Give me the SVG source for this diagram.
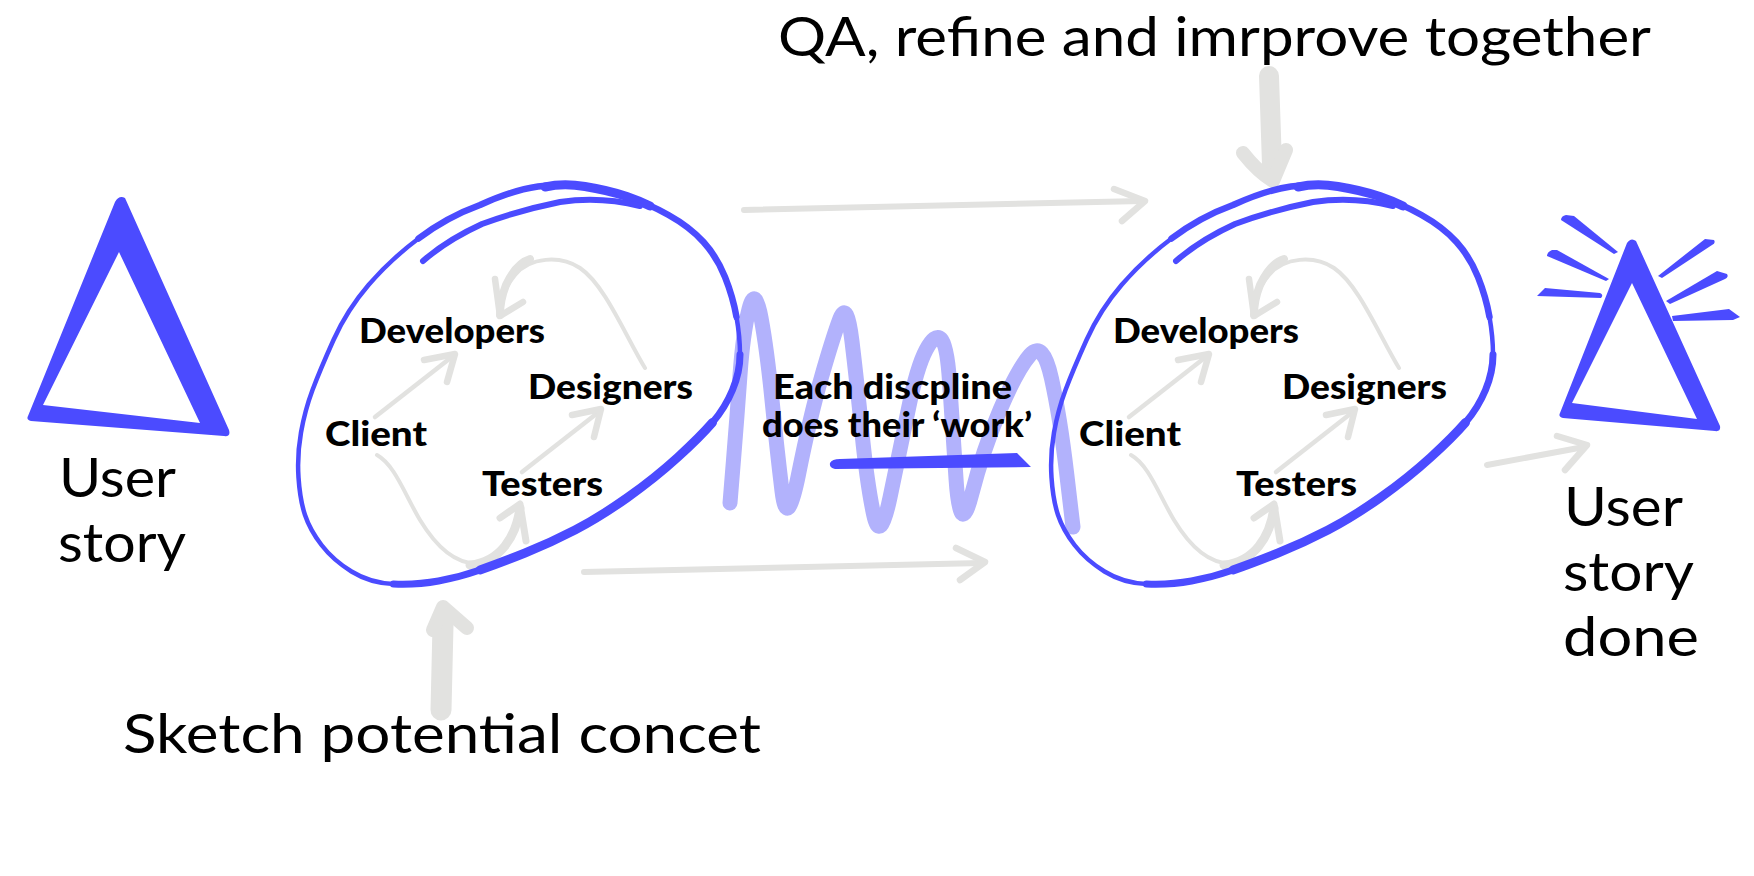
<svg xmlns="http://www.w3.org/2000/svg" xmlns:xlink="http://www.w3.org/1999/xlink" width="1754" height="876" viewBox="0 0 1754 876">
<style>
.big{font-family:Lato,"Liberation Sans",sans-serif;font-size:55px;fill:#000}
.lbl{font-family:Lato,"Liberation Sans",sans-serif;font-weight:900;font-size:34px;fill:#000}
.blue{fill:#4b4bff}
.bl{fill:none;stroke:#4b4bff;stroke-linecap:round;stroke-linejoin:round}
.g{fill:none;stroke:#e2e2e0;stroke-linecap:round;stroke-linejoin:round}
.sq{fill:none;stroke:#b2b2fc;stroke-width:15;stroke-linecap:round;stroke-linejoin:round}
</style>
<defs>
<g id="loop">
<path class="bl" stroke-width="4.5" d="M 585 186.5 Q 607 190 627 196.5 Q 647 203 668.5 215 Q 690 227 703.5 242 Q 717 257 725 277 Q 733 297 736.5 317 Q 740 337 740 354.5 Q 740 372 732.5 390 Q 725 408 712.5 422.5 Q 700 437 677.5 457.5 Q 655 478 627.5 497.5 Q 600 517 575 530 Q 550 543 525 553 Q 500 563 480 570 Q 460 577 438.5 581 Q 417 585 393.5 584 Q 370 583 351.5 571.5 Q 333 560 321.5 545 Q 310 530 305 515 Q 300 500 298.5 477.5 Q 297 455 301 432.5 Q 305 410 312.5 390 Q 320 370 333.5 340 Q 347 310 368.5 285 Q 390 260 418.5 238.5 Q 447 217 480 205 Q 513 190 538 186.5 Q 563 183 585 186.5"/>
<path class="bl" stroke-width="6.5" d="M 418.5 238.5 Q 447 217 480 205 Q 513 190 538 186.5 Q 563 183 585 186.5 Q 607 190 627 196.5 Q 647 203 668.5 215 Q 690 227 703.5 242 Q 717 257 725 277 Q 733 297 736.5 317"/>
<path class="bl" stroke-width="7" d="M 740 354.5 Q 740 372 732.5 390 Q 725 408 712.5 422.5 Q 700 437 677.5 457.5 Q 655 478 627.5 497.5 Q 600 517 575 530 Q 550 543 525 553 Q 500 563 480 570 Q 460 577 438.5 581 Q 417 585 393.5 584"/>
<path class="bl" stroke-width="9" d="M 712.5 422.5 Q 700 437 677.5 457.5 Q 655 478 627.5 497.5 Q 600 517 575 530 Q 550 543 525 553 Q 500 563 480 570"/>
<path class="bl" stroke-width="9" d="M 545 187 Q 563 183 585 186.5 Q 607 190 627 196.5 Q 640 201 650 206"/>
<path class="bl" stroke-width="6" d="M 423 261 Q 447 240 482 224 Q 520 210 560 202 Q 600 196 640 206"/>
</g>
<g id="inner">
<path class="g" stroke-width="4.5" d="M 375 417 L 453 356"/>
<path class="g" stroke-width="6.5" d="M 424 360 L 455 354 L 447 382"/>
<path class="g" stroke-width="4.5" d="M 522 472 L 600 411"/>
<path class="g" stroke-width="6.5" d="M 572 415 L 601 409 L 594 437"/>
<path class="g" stroke-width="4" d="M 377 455 C 395 465 405 495 420 520 C 440 553 460 566 482 563 C 505 559 517 535 520 506"/>
<path class="g" stroke-width="9" d="M 470 565 C 500 562 516 537 520 508"/>
<path class="g" stroke-width="7" d="M 500 518 L 520 504 L 526 541"/>
<path class="g" stroke-width="4" d="M 645 368 C 625 335 605 285 580 268 C 560 255 530 257 515 275 C 505 287 500 300 500 315"/>
<path class="g" stroke-width="8" d="M 530 259 C 520 262 512 272 506 285 C 502 295 500 305 500 315"/>
<path class="g" stroke-width="6.5" d="M 495 279 L 500 316 L 523 302"/>
</g>
</defs>

<g id="work">
<path class="sq" d="M 730 503 L 733.5 460 Q 737 417 740 375 Q 743 333 749 309 Q 755 285 761 317.5 Q 767 350 772 400 Q 777 450 782 491 Q 787 532 798.5 474.5 Q 810 417 821.5 377 Q 833 337 840 318.5 Q 847 300 852 341.5 Q 857 383 862 433 Q 867 483 873.5 514 Q 880 545 890 497.5 Q 900 450 908.5 408.5 Q 917 367 926 350 Q 935 333 941 339 Q 947 345 949.5 381 Q 952 417 956 478.5 Q 960 540 971.5 495 Q 983 450 1000 410 Q 1017 370 1030 355 Q 1043 340 1051.5 378.5 Q 1060 417 1066.5 472 L 1073 527"/>
<path class="blue" d="M 830 463 Q 832 459 840 459 L 1017 453 L 1031 467 L 835 469 Q 829 468 830 463 Z"/>
<text class="lbl" x="773" y="399" textLength="239" lengthAdjust="spacingAndGlyphs">Each discpline</text>
<text class="lbl" x="762" y="437" textLength="270" lengthAdjust="spacingAndGlyphs">does their ‘work’</text>
</g>

<g id="connectors">
<path class="g" stroke-width="6" d="M 744 210 L 1142 201"/>
<path class="g" stroke-width="6.5" d="M 1114 189 L 1145 201 L 1122 221"/>
<path class="g" stroke-width="6" d="M 584 572 L 982 563"/>
<path class="g" stroke-width="6.5" d="M 956 548 L 985 562 L 960 580"/>
<path class="g" stroke-width="6" d="M 1487 465 L 1584 447"/>
<path class="g" stroke-width="6.5" d="M 1557 436 L 1587 445 L 1565 470"/>
<path class="g" stroke-width="20" d="M 1269 76 L 1272 165"/>
<path class="g" stroke-width="14" d="M 1243 153 Q 1258 172 1273 181 L 1286 150"/>
<path class="g" stroke-width="21" d="M 441 710 L 443 625"/>
<path class="g" stroke-width="14" d="M 433 630 L 443 607 L 467 628"/>
<use xlink:href="#inner" href="#inner"/>
<use xlink:href="#inner" href="#inner" transform="translate(754,0)"/>
</g>

<g id="user-story">
<path class="blue" fill-rule="evenodd" d="M 115 202 Q 119 195 125 198 L 229 430 Q 231 437 224 436 L 31 421 Q 26 420 28 416 Z M 119 252 L 43 405 L 200 423 Z"/>
<text class="big" x="59" y="497" textLength="117" lengthAdjust="spacingAndGlyphs">User</text>
<text class="big" x="58" y="562" textLength="128" lengthAdjust="spacingAndGlyphs">story</text>
</g>

<g id="sketch-loop">
<use xlink:href="#loop" href="#loop"/>
<text class="lbl" x="359" y="343" textLength="186" lengthAdjust="spacingAndGlyphs">Developers</text>
<text class="lbl" x="528" y="399" textLength="165" lengthAdjust="spacingAndGlyphs">Designers</text>
<text class="lbl" x="325" y="446" textLength="102" lengthAdjust="spacingAndGlyphs">Client</text>
<text class="lbl" x="482" y="496" textLength="121" lengthAdjust="spacingAndGlyphs">Testers</text>
</g>

<g id="qa-loop">
<use xlink:href="#loop" href="#loop" transform="translate(753,0)"/>
<text class="lbl" x="1113" y="343" textLength="186" lengthAdjust="spacingAndGlyphs">Developers</text>
<text class="lbl" x="1282" y="399" textLength="165" lengthAdjust="spacingAndGlyphs">Designers</text>
<text class="lbl" x="1079" y="446" textLength="102" lengthAdjust="spacingAndGlyphs">Client</text>
<text class="lbl" x="1236" y="496" textLength="121" lengthAdjust="spacingAndGlyphs">Testers</text>
</g>

<g id="done">
<path class="blue" fill-rule="evenodd" d="M 1627 243 Q 1631 237 1636 241 L 1720 426 Q 1721 432 1715 431 L 1563 418 Q 1558 417 1560 413 Z M 1632 283 L 1572 403 L 1697 419 Z"/>
<path class="blue" d="M 1561 220 Q 1561 216 1566 215 L 1574 216 L 1618 252 L 1614 254 Z"/>
<path class="blue" d="M 1547 256 Q 1547 252 1552 250 L 1557 250 L 1609 279 L 1606 281 Z"/>
<path class="blue" d="M 1537 296 L 1545 288 L 1600 293 Q 1604 295 1601 298 Z"/>
<path class="blue" d="M 1658 276 L 1705 239 L 1714 240 Q 1716 243 1712 245 L 1662 278 Z"/>
<path class="blue" d="M 1666 301 L 1717 271 L 1727 274 Q 1729 277 1725 279 L 1670 304 Z"/>
<path class="blue" d="M 1672 316 L 1729 309 L 1740 317 L 1733 320 L 1673 321 Z"/>
<text class="big" x="1564" y="526" textLength="119" lengthAdjust="spacingAndGlyphs">User</text>
<text class="big" x="1563" y="591" textLength="131" lengthAdjust="spacingAndGlyphs">story</text>
<text class="big" x="1563" y="656" textLength="136" lengthAdjust="spacingAndGlyphs">done</text>
</g>

<g id="captions">
<text class="big" x="778" y="56" textLength="873" lengthAdjust="spacingAndGlyphs">QA, refine and imrprove together</text>
<text class="big" x="123" y="753" textLength="638" lengthAdjust="spacingAndGlyphs">Sketch potential concet</text>
</g>
</svg>
